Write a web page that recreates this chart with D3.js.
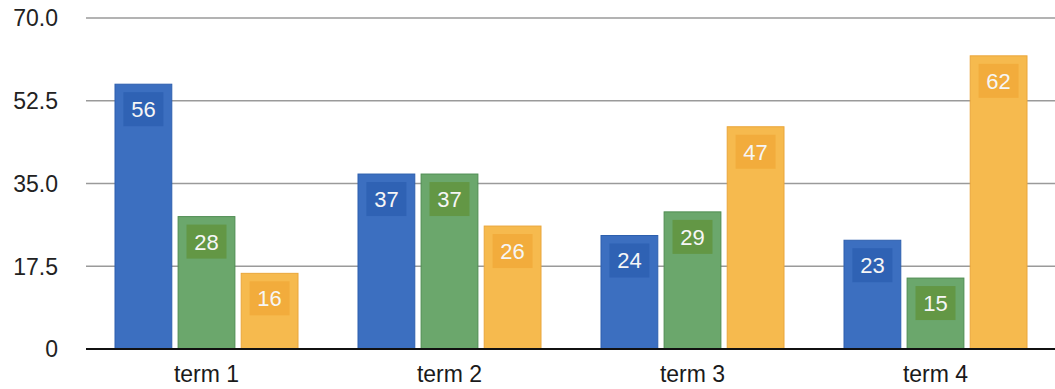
<!DOCTYPE html>
<html>
<head>
<meta charset="utf-8">
<script src="https://cdn.jsdelivr.net/npm/d3@7"></script>
<style>
  html, body { margin: 0; padding: 0; background: #fff; }
  svg { display: block; font-family: "Liberation Sans", Arial, Helvetica, sans-serif; }
</style>
</head>
<body>
<svg id="chart" width="1055" height="389"></svg>
<script>
// Grouped bar chart: three series per term
const categories = ["term 1", "term 2", "term 3", "term 4"];
const seriesNames = ["A", "B", "C"];
const seriesA = [56, 37, 24, 23];
const seriesB = [28, 37, 29, 15];
const seriesC = [16, 26, 47, 62];
const yTicks = [0, 17.5, 35, 52.5, 70];
const yTickLabels = ["0", "17.5", "35.0", "52.5", "70.0"];

const palette = {
  A: { fill: "#3c6fc0", stroke: "#2d5fae", box: "#2f62b4" },
  B: { fill: "#6ba76c", stroke: "#4f8d52", box: "#639745" },
  C: { fill: "#f6ba4e", stroke: "#eaa63a", box: "#f2ac3c" }
};

const values = { A: seriesA, B: seriesB, C: seriesC };
const rows = categories.map((c, i) => ({
  category: c,
  bars: seriesNames.map(s => ({ series: s, value: values[s][i] }))
}));

const svg = d3.select("#chart");
const plotLeft = 86, plotRight = 1055;

const x0 = d3.scaleBand().domain(categories).range([85, 1057]).padding(0);
const x1 = d3.scaleBand().domain(seriesNames).range([30, 213]).paddingInner(0.1);
const y = d3.scaleLinear().domain([0, 70]).range([349, 18]);

// Horizontal gridlines
svg.append("g")
  .selectAll("line")
  .data(yTicks.filter(t => t > 0))
  .join("line")
  .attr("x1", plotLeft).attr("x2", plotRight)
  .attr("y1", d => y(d)).attr("y2", d => y(d))
  .attr("stroke", "#9a9a9a")
  .attr("stroke-width", 1.6);

// Y tick labels
svg.append("g")
  .selectAll("text")
  .data(yTicks)
  .join("text")
  .attr("x", 58)
  .attr("y", d => y(d))
  .attr("dy", "0.36em")
  .attr("text-anchor", "end")
  .attr("font-size", 23)
  .attr("fill", "#222")
  .text((d, i) => yTickLabels[i]);

// Bars
const groups = svg.append("g")
  .selectAll("g")
  .data(rows)
  .join("g")
  .attr("transform", d => `translate(${x0(d.category)},0)`);

groups.selectAll("rect.bar")
  .data(d => d.bars)
  .join("rect")
  .attr("class", "bar")
  .attr("x", d => x1(d.series))
  .attr("width", x1.bandwidth())
  .attr("y", d => y(d.value))
  .attr("height", d => y(0) - y(d.value))
  .attr("fill", d => palette[d.series].fill)
  .attr("stroke", d => palette[d.series].stroke)
  .attr("stroke-width", 1);

// Value label boxes inside the top of each bar
const boxW = 40, boxH = 34, boxOffset = 8;
groups.selectAll("rect.box")
  .data(d => d.bars)
  .join("rect")
  .attr("class", "box")
  .attr("x", d => x1(d.series) + x1.bandwidth() / 2 - boxW / 2)
  .attr("y", d => y(d.value) + boxOffset)
  .attr("width", boxW)
  .attr("height", boxH)
  .attr("fill", d => palette[d.series].box);

groups.selectAll("text.val")
  .data(d => d.bars)
  .join("text")
  .attr("class", "val")
  .attr("x", d => x1(d.series) + x1.bandwidth() / 2)
  .attr("y", d => y(d.value) + boxOffset + boxH / 2)
  .attr("dy", "0.36em")
  .attr("text-anchor", "middle")
  .attr("font-size", 22)
  .attr("fill", "#f6f6f6")
  .text(d => d.value);

// Baseline
svg.append("line")
  .attr("x1", plotLeft).attr("x2", plotRight)
  .attr("y1", y(0)).attr("y2", y(0))
  .attr("stroke", "#111")
  .attr("stroke-width", 2);

// Category labels
svg.append("g")
  .selectAll("text")
  .data(categories)
  .join("text")
  .attr("x", d => x0(d) + x0.bandwidth() / 2)
  .attr("y", 382)
  .attr("text-anchor", "middle")
  .attr("font-size", 23)
  .attr("fill", "#1a1a1a")
  .text(d => d);
</script>
</body>
</html>
